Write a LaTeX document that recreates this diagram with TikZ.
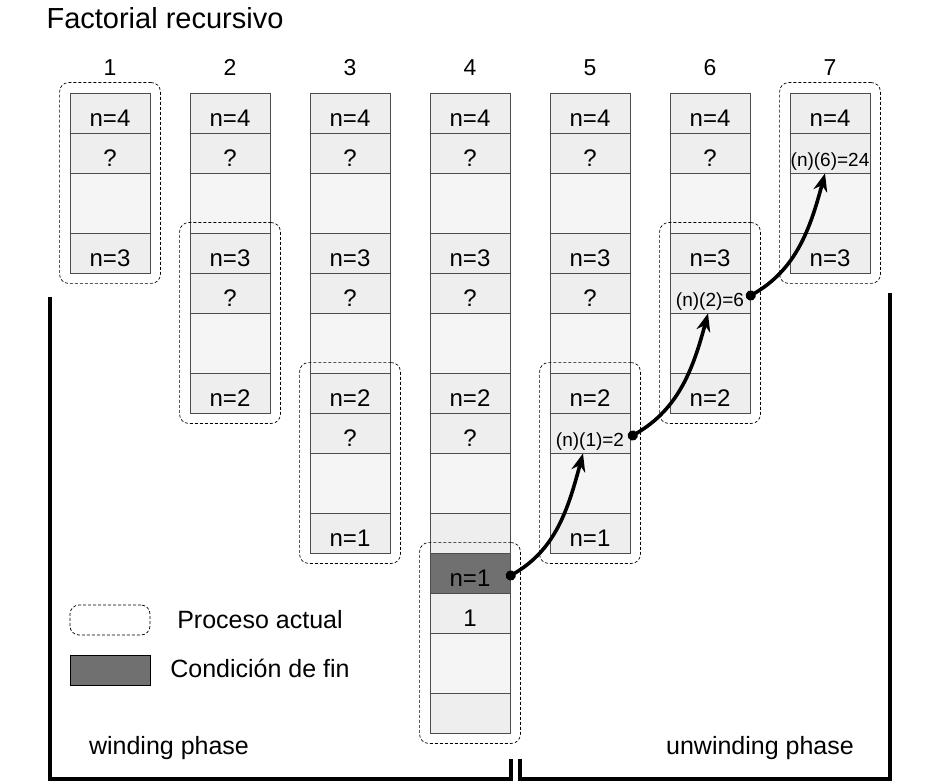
\documentclass[tikz,border=0pt]{standalone}
\usepackage{fontspec}
\setmainfont{Liberation Sans}
\usetikzlibrary{arrows.meta,fit}
\definecolor{cellgray}{HTML}{EEEEEE}
\definecolor{gapgray}{HTML}{F5F5F5}
\definecolor{endgray}{HTML}{707070}
\definecolor{edgegray}{HTML}{4D4D4D}
\newcommand\res[1]{{\fontsize{19}{19}\selectfont #1}}
\tikzset{
  cell/.style={draw=edgegray, fill=cellgray, line width=0.8pt, minimum width=80pt,
    minimum height=40pt, inner sep=0pt, text height=27pt, text depth=0pt,
    font=\fontsize{24}{24}\selectfont},
  gap/.style={cell, fill=gapgray, minimum height=60pt},
  endcell/.style={cell, fill=endgray},
  current/.style={draw, dash pattern=on 3pt off 2pt, line width=0.7pt, rounded corners=9pt, inner sep=10pt},
  ret/.style={line width=3.6pt, {Circle[length=10pt]}-{Stealth[length=18pt,width=14pt]}},
  phase/.style={line width=4pt},
  label/.style={inner sep=0pt, font=\fontsize{25}{25}\selectfont},
}
\begin{document}
\begin{tikzpicture}[x=1pt,y=-1pt]
  \useasboundingbox (0,0) rectangle (941,783);
  \node[label, font=\fontsize{29}{29}\selectfont] (title) at (165,18) {Factorial recursivo};
  % stacks
  \foreach \c/\last/\vals in {1/{n=3}/{?}, 2/{n=2}/{?,?}, 3/{n=1}/{?,?,?}, 4/{}/{?,?,?},
      5/{n=1}/{?,?,\res{(n)(1)=2}}, 6/{n=2}/{?,\res{(n)(2)=6}}, 7/{n=3}/{\res{(n)(6)=24}}} {
    \node[label, font=\fontsize{23}{23}\selectfont, anchor=base] (h\c) at ({110+120*(\c-1)},76) {\c};
    \foreach \v [count=\k from 0] in \vals {
      \pgfmathtruncatemacro\nn{4-\k}
      \node[cell] (c\c-n\nn) at ({110+120*(\c-1)},{113+140*\k}) {n=\nn};
      \node[cell] (c\c-v\nn) at ({110+120*(\c-1)},{153+140*\k}) {\v};
      \node[gap] (c\c-g\nn) at ({110+120*(\c-1)},{203+140*\k}) {};
    }
  }
  \node[cell] (c1-last) at (110,253) {n=3};
  \node[cell] (c2-last) at (230,393) {n=2};
  \node[cell] (c3-last) at (350,533) {n=1};
  \node[cell] (c4-last) at (470,533) {};
  \node[cell] (c5-last) at (590,533) {n=1};
  \node[cell] (c6-last) at (710,393) {n=2};
  \node[cell] (c7-last) at (830,253) {n=3};
  \node[endcell] (c4-n1) at (470,573) {n=1};
  \node[cell] (c4-v1) at (470,613) {1};
  \node[gap] (c4-g1) at (470,663) {};
  \node[cell] (c4-e) at (470,713) {};
  % current process
  \node[current, fit=(c1-n4)(c1-last)] (p1) {};
  \node[current, fit=(c2-n3)(c2-last)] (p2) {};
  \node[current, fit=(c3-n2)(c3-last)] (p3) {};
  \node[current, fit=(c4-n1)(c4-e)] (p4) {};
  \node[current, fit=(c5-n2)(c5-last)] (p5) {};
  \node[current, fit=(c6-n3)(c6-last)] (p6) {};
  \node[current, fit=(c7-n4)(c7-last)] (p7) {};
  % returns
  \draw[ret] ([xshift=-4pt,yshift=-5pt]c4-n1.east) to[out=30,in=-105] ([xshift=-7pt]c5-v2.south);
  \draw[ret] ([xshift=-2pt,yshift=-5pt]c5-v2.east) to[out=30,in=-105] ([xshift=-2pt]c6-v3.south);
  \draw[ret] ([xshift=-4pt,yshift=-5pt]c6-v3.east) to[out=30,in=-105] ([xshift=-5pt]c7-v4.south);
  % legend
  \node[current, inner sep=0pt, minimum width=80pt, minimum height=30pt] (legcur) at (110,620) {};
  \node[label] (legcurtxt) at (260,620) {Proceso actual};
  \node[draw, fill=endgray, line width=0.8pt, minimum width=80pt, minimum height=30pt] (legend) at (110,670) {};
  \node[label] (legendtxt) at (260,668) {Condición de fin};
  % phases
  \draw[phase] (50,297) |- (511,779) -- (511,759);
  \draw[phase] (520,759) |- (890,779) -- (890,293);
  \node[label] (wind) at (169,748) {winding phase};
  \node[label] (unwind) at (760,748) {unwinding phase};
\end{tikzpicture}
\end{document}
